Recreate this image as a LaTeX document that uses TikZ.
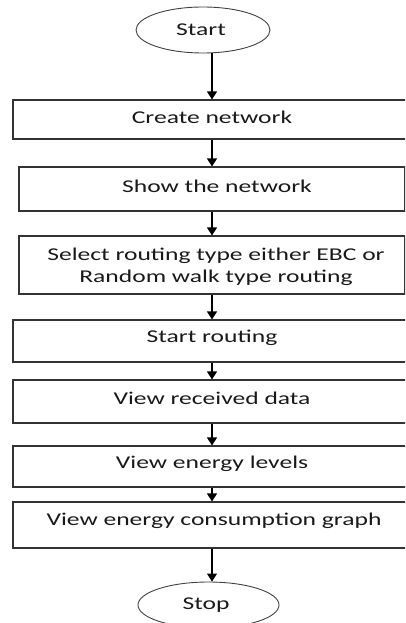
\documentclass[tikz,border=0pt]{standalone}
\usepackage{fontspec}
\setmainfont{Carlito}[FakeStretch=1.42]
\usetikzlibrary{shapes.geometric,arrows.meta}
\begin{document}
\begin{tikzpicture}[x=1pt,y=-1pt,
  boxstyle/.style={draw=black!80,line width=1.1pt,rectangle,inner sep=0pt},
  ovalstyle/.style={draw=black!75,line width=0.9pt,ellipse,inner sep=0pt,minimum width=134pt,minimum height=46pt},
  txt/.style={anchor=base,inner sep=0pt,text=black!90,font=\fontsize{18}{22}\selectfont},
  arr/.style={line width=1.2pt,-{Triangle[width=10pt,length=8pt]}}]
\useasboundingbox (0,0) rectangle (405,623);
\clip (0,0) rectangle (405,623);
% terminals
\node[ovalstyle] (start) at (203,30) {};
\node[txt] (starttxt) at (201,36) {Start};
\node[ovalstyle,minimum width=141pt] (stop) at (208.5,605) {};
\node[txt] (stoptxt) at (206,609) {Stop};
% process boxes
\node[boxstyle,minimum width=398pt,minimum height=39pt] (b1) at (212,119.5) {};
\node[boxstyle,minimum width=386pt,minimum height=44pt] (b2) at (212,189) {};
\node[boxstyle,minimum width=386pt,minimum height=58pt] (b3) at (212,265) {};
\node[boxstyle,minimum width=398pt,minimum height=42pt] (b4) at (212,341) {};
\node[boxstyle,minimum width=398pt,minimum height=43pt] (b5) at (212,401.5) {};
\node[boxstyle,minimum width=398pt,minimum height=41pt] (b6) at (212,466.5) {};
\node[boxstyle,minimum width=398pt,minimum height=46pt] (b7) at (212,525) {};
% texts
\node[txt] (t1) at (212,124) {Create network};
\node[txt] (t2) at (217,192) {Show the network};
\node[txt] (t3a) at (216,260) {Select routing type either EBC or};
\node[txt] (t3b) at (216,282) {Random walk type routing};
\node[txt] (t4) at (212,342) {Start routing};
\node[txt] (t5) at (212,404) {View received data};
\node[txt] (t6) at (212,468) {View energy levels};
\node[txt] (t7) at (214,525) {View energy consumption graph};
% connectors
\draw[arr] (b1.north |- start.south) -- (b1.north);
\draw[arr] (b1.south) -- (b2.north);
\draw[arr] (b2.south) -- (b3.north);
\draw[arr] (b3.south) -- (b4.north);
\draw[arr] (b4.south) -- (b5.north);
\draw[arr] (b5.south) -- (b6.north);
\draw[arr] (b6.south) -- (b7.north);
\draw[arr] (b7.south) -- (b7.south |- stop.north);
\end{tikzpicture}
\end{document}
